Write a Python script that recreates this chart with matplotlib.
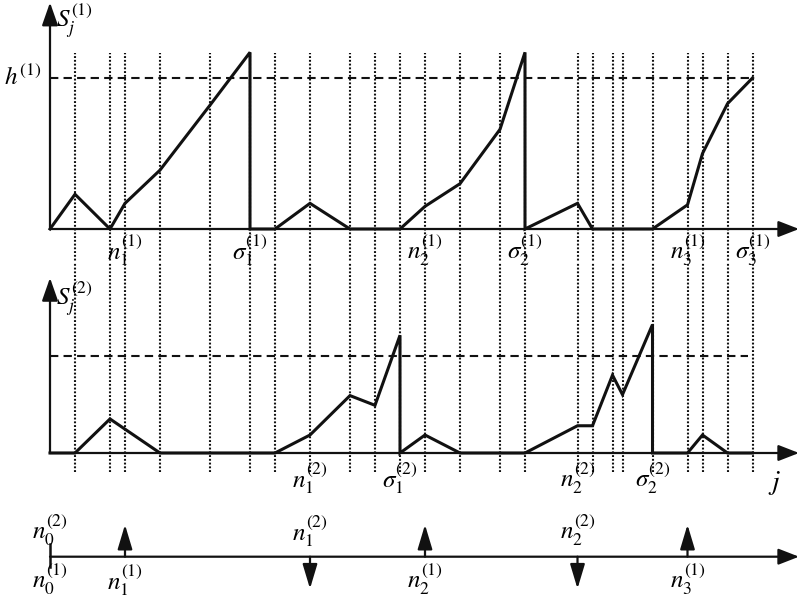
import numpy as np
import matplotlib.pyplot as plt

plt.rcParams['mathtext.fontset'] = 'stix'
plt.rcParams['font.family'] = 'STIXGeneral'

# positions of the dotted grid lines (j)
grid_j = [1, 2.4, 3, 4.4, 6.4, 8, 9, 10.4, 12, 13, 14, 15, 16.4, 18, 19,
          21.1, 21.7, 22.5, 22.9, 24.1, 25.5, 26.1, 27.1, 28.1]

# S_j^(1)
s1_j = [0, 1, 2.4, 3, 4.4, 6.4, 8, 8, 9, 10.4, 12, 13, 14, 15, 16.4, 18, 19, 19,
        21.1, 21.7, 22.5, 22.9, 24.1, 25.5, 26.1, 27.1, 28.1]
s1_val = [0, 0.23, 0, 0.17, 0.39, 0.82, 1.17, 0, 0, 0.17, 0, 0, 0, 0.15, 0.30, 0.66, 1.17, 0,
          0.17, 0, 0, 0, 0, 0.16, 0.50, 0.83, 1.0]
h1 = 1.0

# S_j^(2)
s2_j = [0, 1, 2.4, 4.4, 9, 10.4, 12, 13, 14, 14, 15, 16.4, 19, 21.1, 21.7,
        22.5, 22.9, 24.1, 24.1, 25.5, 26.1, 27.1, 28.1]
s2_val = [0, 0, 0.35, 0, 0, 0.185, 0.59, 0.49, 1.21, 0, 0.185, 0, 0, 0.28, 0.28,
          0.80, 0.60, 1.32, 0, 0, 0.185, 0, 0]
h2 = 1.0

top_lab_j = [3, 8, 15, 19, 25.5, 28.1]
top_lab = [r'$n_1^{(1)}$', r'$\sigma_1^{(1)}$', r'$n_2^{(1)}$', r'$\sigma_2^{(1)}$',
           r'$n_3^{(1)}$', r'$\sigma_3^{(1)}$']
mid_lab_j = [10.4, 14, 21.1, 24.1]
mid_lab = [r'$n_1^{(2)}$', r'$\sigma_1^{(2)}$', r'$n_2^{(2)}$', r'$\sigma_2^{(2)}$']

up_j = [3, 15, 25.5]
up_lab = [r'$n_1^{(1)}$', r'$n_2^{(1)}$', r'$n_3^{(1)}$']
down_j = [10.4, 21.1]
down_lab = [r'$n_1^{(2)}$', r'$n_2^{(2)}$']

W, H = 799, 597
fig = plt.figure(figsize=(W / 100, H / 100), dpi=100)
xlim = (-2, 29.96)
K = '#111111'
fs = 18

def make_ax(top_px, bot_px, base_px, unit_px):
    ax = fig.add_axes([0, (H - bot_px) / H, 1, (bot_px - top_px) / H])
    ax.set_xlim(*xlim)
    ax.set_ylim(-(bot_px - base_px) / unit_px, (base_px - top_px) / unit_px)
    ax.axis('off')
    return ax

def axis_arrows(ax, ytop):
    ax.annotate('', xy=(xlim[1], 0), xytext=(0, 0),
                arrowprops=dict(arrowstyle='-|>,head_length=0.9,head_width=0.35',
                                mutation_scale=14, lw=1.6, color=K, shrinkA=0, shrinkB=0))
    ax.annotate('', xy=(0, ytop), xytext=(0, 0),
                arrowprops=dict(arrowstyle='-|>,head_length=1.0,head_width=0.35',
                                mutation_scale=14, lw=1.6, color=K, shrinkA=0, shrinkB=0))

dot = dict(color=K, lw=1.5, linestyle=(0, (0.9, 0.9)))

# top panel
ax1 = make_ax(0, 262, 229, 151)
ax1.vlines(grid_j, -5, 1.166, **dot)
ax1.plot([0, grid_j[-1]], [h1, h1], color=K, lw=1.5, linestyle=(0, (4, 2.5)))
ax1.plot(s1_j, s1_val, color=K, lw=2.2, solid_joinstyle='miter')
axis_arrows(ax1, 1.5)
ax1.text(0.25, 1.38, r'$S_j^{(1)}$', fontsize=fs, ha='left', va='center')
ax1.text(-0.35, h1, r'$h^{(1)}$', fontsize=fs, ha='right', va='center')
for j, s in zip(top_lab_j, top_lab):
    ax1.text(j, -0.14, s, fontsize=fs, ha='center', va='center')
# the j of the top axis is cut by the right edge, as in the source
ax1.text(30.0, 0.1, r'$j$', fontsize=fs, ha='left', va='center', clip_on=False)

# middle panel
ax2 = make_ax(262, 500, 453, 97.3)
ax2.vlines(grid_j, -0.195, 5, **dot)
ax2.plot([0, 27.9], [h2, h2], color=K, lw=1.5, linestyle=(0, (4, 2.5)))
ax2.plot(s2_j, s2_val, color=K, lw=2.2, solid_joinstyle='miter')
axis_arrows(ax2, 1.8)
ax2.text(0.25, 1.59, r'$S_j^{(2)}$', fontsize=fs, ha='left', va='center')
for j, s in zip(mid_lab_j, mid_lab):
    ax2.text(j, -0.26, s, fontsize=fs, ha='center', va='center')
ax2.text(29, -0.31, r'$j$', fontsize=fs + 2, ha='center', va='center')

# bottom line
ax3 = make_ax(500, 597, 556.7, 1)
ax3.annotate('', xy=(xlim[1], 0), xytext=(0, 0),
             arrowprops=dict(arrowstyle='-|>,head_length=0.9,head_width=0.35',
                             mutation_scale=14, lw=1.6, color=K, shrinkA=0, shrinkB=0))
ax3.plot([0, 0], [-10.5, 12.5], color=K, lw=1.8)
ax3.text(0, 26, r'$n_0^{(2)}$', fontsize=fs, ha='center', va='center')
ax3.text(0, -23, r'$n_0^{(1)}$', fontsize=fs, ha='center', va='center')
for j, s in zip(up_j, up_lab):
    ax3.annotate('', xy=(j, 32), xytext=(j, 0),
                 arrowprops=dict(arrowstyle='-|>,head_length=1.0,head_width=0.3',
                                 mutation_scale=15, lw=1.6, color=K, shrinkA=0, shrinkB=0))
    ax3.text(j, -23, s, fontsize=fs, ha='center', va='center')
for j, s in zip(down_j, down_lab):
    ax3.annotate('', xy=(j, -32), xytext=(j, 0),
                 arrowprops=dict(arrowstyle='-|>,head_length=1.0,head_width=0.3',
                                 mutation_scale=15, lw=1.6, color=K, shrinkA=0, shrinkB=0))
    ax3.text(j, 26, s, fontsize=fs, ha='center', va='center')

fig.savefig('out.png', dpi=100)
